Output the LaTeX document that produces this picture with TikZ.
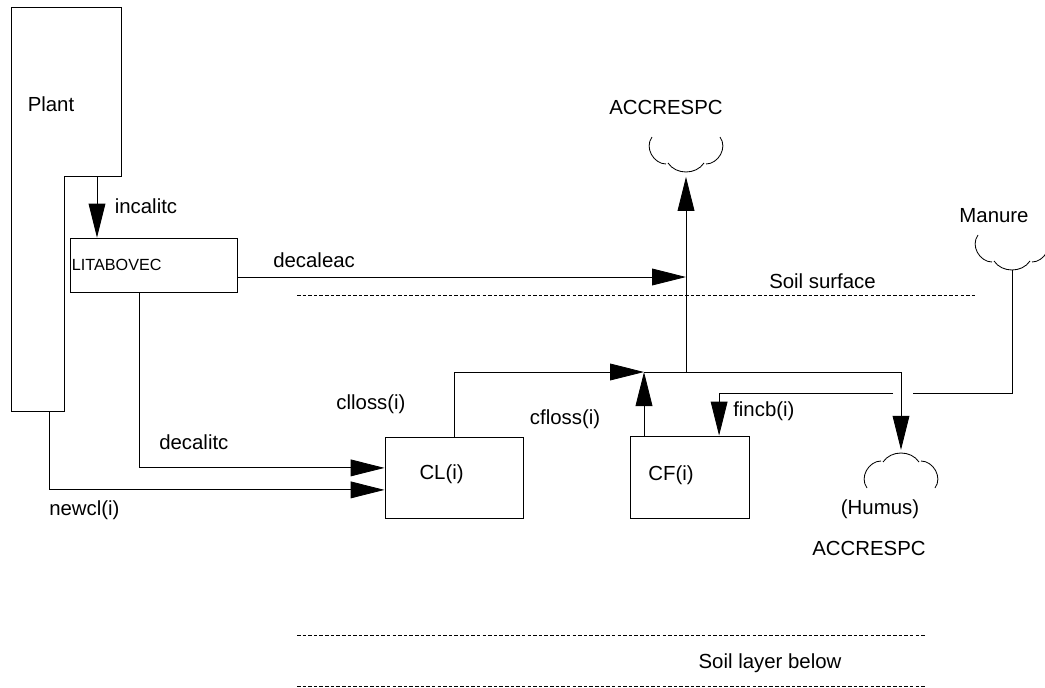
\documentclass[tikz,border=0pt]{standalone}
\usepackage{fontspec}
\setmainfont{Liberation Sans}
\usetikzlibrary{arrows.meta}

\begin{document}
\begin{tikzpicture}[x=0.25mm, y=-0.25mm, inner sep=0pt,
  font=\fontsize{14.5}{17}\selectfont,
  box/.style={draw=black, rectangle, line width=0.6pt},
  flow/.style={-{Triangle[length=8.5mm, width=4.2mm]}, line width=0.6pt},
  soil/.style={dash pattern=on 2.5pt off 1.5pt, line width=0.6pt},
  cloudcup/.pic={
    \draw[line width=0.6pt] (-34,-35) .. controls (-42,-24) and (-32,-8) .. (-20,-8);
    \draw[line width=0.6pt] (-18,-9) .. controls (-10,3) and (10,3) .. (18,-9);
    \draw[line width=0.6pt] (20,-8) .. controls (32,-8) and (42,-24) .. (34,-35);
  }]
\clip (0,0) rectangle (1045,688);

% plant
\draw[line width=0.6pt] (11,7) -- (121,7) -- (121,176) -- (64,176) -- (64,411) -- (11,411) -- cycle;
\node (plant) at (51,104) {Plant};
\coordinate (plantstep) at (97,176);
\coordinate (plantfoot) at (49,411);

% pools
\node[box, minimum width=41.75mm, minimum height=13.5mm, text width=40.75mm, align=left,
  inner xsep=0.5mm, font=\fontsize{11.5}{13}\selectfont] (litabovec) at (153.5,265) {LITABOVEC};
\node[box, minimum width=34.5mm, minimum height=20.25mm,
  label={[xshift=-3.1mm, yshift=0.9mm]center:CL(i)}] (cl) at (454,477.5) {};
\node[box, minimum width=29.75mm, minimum height=20.5mm,
  label={[xshift=-4.6mm, yshift=0.5mm]center:CF(i)}] (cf) at (689.5,477) {};

% sinks and sources
\coordinate (accresp) at (686,172);
\coordinate (manure) at (1012,270);
\coordinate (humus) at (901,453);
\pic at (accresp) {cloudcup};
\pic at (manure) {cloudcup};
\pic[yscale=-1] at (humus) {cloudcup};
\node (accresptext) at (666,107) {ACCRESPC};
\node (manuretext) at (994,216) {Manure};
\node (humustext) at (880,509) {(Humus)};
\node (humusacc) at (869,548) {ACCRESPC};

% junctions
\coordinate (surf) at (686,277);
\coordinate (hub) at (686,372);
\coordinate (merge) at (644,372);
\coordinate (gapR) at (913,393);
\coordinate (gapL) at (893,393);

% flows
\draw[flow] (plantstep) -- (plantstep |- litabovec.north);
\draw[flow] (litabovec.east |- surf) -- (surf);
\draw[flow, shorten >=1.2mm] (hub) -- (accresp);
\draw[flow] ([xshift=-3.6mm]litabovec.south) |- ([yshift=2.4mm]cl.west);
\draw[flow] (plantfoot) |- ([yshift=-3.1mm]cl.west);
\draw[flow] (cl.north) |- (merge);
\draw[flow] (cf.north west -| merge) -- (merge);
\draw[flow, shorten >=0.8mm] (merge) -| (humus);
\draw[line width=0.6pt] (manure) |- (gapR);
\draw[flow] (gapL) -| ([xshift=7.4mm]cf.north);

\node (incalitc) at (146,206) {incalitc};
\node[anchor=west] (decaleac) at (273,260) {decaleac};
\node[anchor=west] (decalitc) at (159,442) {decalitc};
\node[anchor=west] (newcl) at (49,510) {newcl(i)};
\node (clloss) at (371,404) {clloss(i)};
\node (cfloss) at (565,419) {cfloss(i)};
\node[anchor=west] (fincb) at (733,411) {fincb(i)};

% soil layers
\draw[soil] (297,295) -- (975,295);
\draw[soil] (297,635) -- (925,635);
\draw[soil] (297,686.5) -- (925,686.5);
\node[anchor=west] (surface) at (769,281) {Soil surface};
\node (below) at (770,663) {Soil layer below};
\end{tikzpicture}
\end{document}
